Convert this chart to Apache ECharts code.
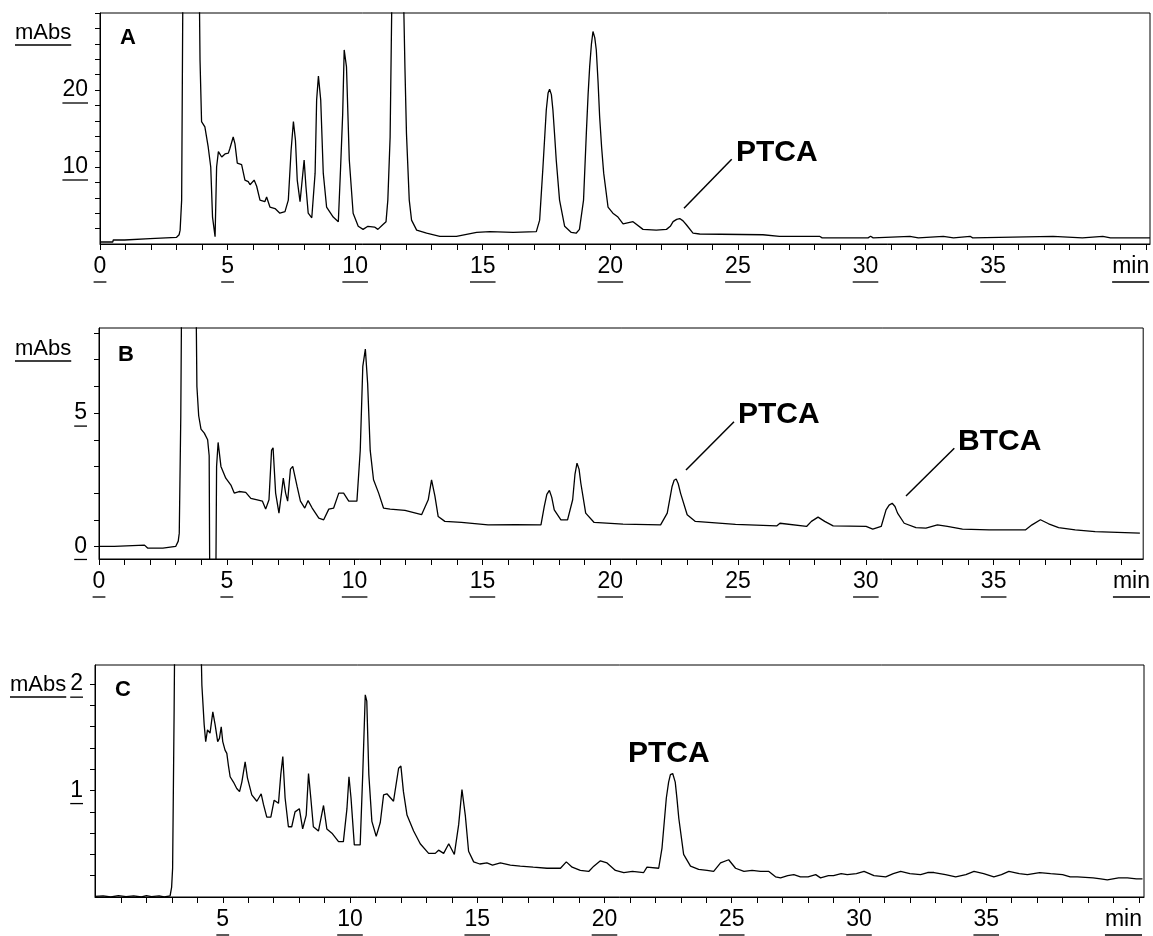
<!DOCTYPE html>
<html><head><meta charset="utf-8">
<script src="https://cdn.jsdelivr.net/npm/echarts@6/dist/echarts.min.js"></script>
<style>html,body{margin:0;padding:0;background:#fff}#c{width:1153px;height:936px}</style>
</head><body><div id="c"></div>
<script>
// ---- Panel A (retention time, min / absorbance, mAbs)
const tA=[0,0.5,0.52,0.96,0.98,1.96,1.98,3.0,3.1,3.14,3.2,3.26,3.5,3.87,3.92,3.98,4.11,4.24,4.34,4.41,4.51,4.57,4.64,4.77,4.9,5.03,5.09,5.22,5.29,5.38,5.55,5.68,5.81,5.88,6.04,6.14,6.27,6.46,6.53,6.66,6.86,7.05,7.25,7.38,7.49,7.58,7.66,7.73,7.84,7.9,8.0,8.07,8.16,8.3,8.43,8.49,8.56,8.65,8.75,8.88,9.14,9.34,9.43,9.51,9.57,9.66,9.77,9.92,10.12,10.31,10.5,10.76,10.89,11.08,11.21,11.28,11.37,11.45,11.65,11.88,11.95,12.01,12.12,12.21,12.41,12.8,13.32,13.97,14.76,15.28,16.19,17.1,17.23,17.36,17.43,17.49,17.56,17.62,17.69,17.75,17.82,17.88,18.01,18.21,18.47,18.66,18.79,18.95,19.06,19.13,19.19,19.26,19.32,19.39,19.45,19.52,19.58,19.66,19.74,19.91,20.1,20.3,20.5,20.89,21.28,21.8,22.2,22.35,22.46,22.6,22.72,22.85,22.98,23.24,23.5,25.98,26.63,28.2,28.3,30.1,30.2,30.3,31.74,32.07,33.05,33.45,34.1,34.2,37.35,38.5,39.3,39.6,40.8,41.15];
const vA=[0.26,0.26,0.52,0.52,0.69,0.69,0.82,0.87,1.2,1.8,5.7,40,80,40,23.9,15.9,15.2,12.6,10.0,3.5,0.95,10,12.0,11.3,11.7,11.8,12.4,13.9,13.0,10.5,10.3,8.3,8.1,7.7,8.3,7.5,5.7,5.5,6.1,4.8,4.6,4.0,4.2,5.7,12.2,15.9,13.5,8.3,5.5,7.5,10.9,7.5,4.0,3.4,9.2,18.7,21.8,18.7,9.2,4.8,3.5,2.9,10,16.8,25.2,23,10.9,4.0,2.3,1.9,2.3,2.2,1.9,2.5,2.9,5.7,13.9,35,60,35,23,14.4,5.7,3.1,1.8,1.4,1.0,1.0,1.5,1.6,1.5,1.6,3.1,10,14.0,17.4,19.6,20.1,19.4,17.4,14.0,10.9,5.7,2.3,1.5,1.4,1.9,5.7,14.4,19.5,23,26.0,27.6,26.8,25.2,21.0,16.6,12.5,9.2,4.8,4.0,3.5,2.6,2.9,1.9,1.8,1.9,2.3,2.9,3.2,3.3,3.0,2.5,1.4,1.3,1.2,1.0,1.0,0.8,0.8,1.0,0.8,1.0,0.8,1.0,0.8,1.0,0.8,1.0,0.8,1.0,0.8,0.8,0.8];

// ---- Panel B
const tB=[0,0.6,0.61,1.78,1.9,2.5,2.56,3.0,3.1,3.14,3.2,3.25,3.5,3.77,3.83,3.9,3.99,4.12,4.25,4.31,4.34,4.56,4.6,4.66,4.77,4.96,5.16,5.29,5.48,5.74,5.94,6.19,6.39,6.52,6.65,6.75,6.81,6.91,7.04,7.14,7.21,7.3,7.38,7.49,7.58,7.75,7.88,8.05,8.18,8.34,8.6,8.79,8.99,9.18,9.38,9.57,9.77,10.09,10.22,10.32,10.42,10.51,10.61,10.74,10.94,11.13,11.39,11.97,12.62,12.88,13.01,13.14,13.27,13.53,14.18,15.22,16.3,17.29,17.42,17.52,17.62,17.71,17.81,18.07,18.33,18.53,18.62,18.7,18.78,18.85,19.04,19.37,20.5,21.97,22.23,22.42,22.5,22.58,22.66,22.75,23.01,23.33,24.9,26.51,26.64,27.68,27.87,28.13,28.39,28.72,30.01,30.27,30.6,30.79,30.91,31.03,31.14,31.24,31.5,31.96,32.35,32.8,33.19,33.78,34.82,36.24,36.5,36.83,37.15,37.54,38.19,38.97,40.72];
const vB=[0,0,0.06,0.05,-0.06,-0.06,0,0,0.2,0.5,4.9,12,20,12,6.0,4.9,4.4,4.25,4.0,3.4,-3,-3,3.0,3.9,3.0,2.56,2.3,2.0,2.06,2.03,1.8,1.75,1.7,1.4,1.75,3.6,3.7,2.0,1.25,2.0,2.56,2.0,1.7,2.9,3.0,2.25,1.7,1.44,1.72,1.44,1.06,1.0,1.4,1.44,2.0,2.0,1.7,1.7,3.6,6.75,7.4,6.1,3.6,2.5,2.0,1.44,1.4,1.35,1.19,1.75,2.5,1.9,1.12,0.94,0.9,0.81,0.82,0.81,1.5,1.95,2.1,1.85,1.37,1.0,1.0,1.75,2.7,3.12,2.9,2.37,1.25,0.9,0.84,0.81,1.25,2.25,2.48,2.53,2.35,2.0,1.19,0.94,0.83,0.77,0.87,0.75,0.94,1.1,0.94,0.77,0.75,0.65,0.75,1.37,1.55,1.62,1.5,1.25,0.87,0.71,0.69,0.81,0.75,0.65,0.62,0.62,0.81,1.0,0.85,0.71,0.62,0.56,0.5];

// ---- Panel C
const tC=[-0.02,0.3,0.6,0.9,1.2,1.5,1.8,2.0,2.2,2.5,2.7,2.93,2.99,3.03,3.09,3.13,3.6,4.09,4.18,4.27,4.33,4.4,4.5,4.61,4.7,4.8,4.87,4.94,5.0,5.09,5.16,5.22,5.29,5.42,5.55,5.66,5.75,5.88,5.97,6.14,6.34,6.51,6.6,6.73,6.89,7.02,7.19,7.28,7.36,7.45,7.58,7.71,7.84,8.01,8.14,8.28,8.37,8.46,8.56,8.76,8.96,9.09,9.29,9.55,9.74,9.88,9.96,10.04,10.17,10.4,10.5,10.6,10.66,10.74,10.86,11.03,11.19,11.32,11.45,11.71,11.91,12.0,12.1,12.24,12.5,12.76,13.09,13.35,13.48,13.68,13.88,14.1,14.27,14.4,14.53,14.66,14.86,15.1,15.38,15.6,15.91,16.3,16.69,17.2,17.74,18.27,18.5,18.73,19.05,19.38,19.58,19.84,20.1,20.43,20.76,21.1,21.54,21.67,22.13,22.26,22.43,22.52,22.59,22.68,22.78,22.85,22.92,23.11,23.38,23.7,24.03,24.29,24.56,24.88,25.15,25.48,25.8,26.13,26.46,26.72,26.92,27.2,27.44,27.7,28.0,28.3,28.49,28.8,29.0,29.3,29.54,29.9,30.2,30.59,31.05,31.35,31.64,32.0,32.42,32.7,32.95,33.4,33.8,34.2,34.52,34.9,35.3,35.6,35.89,36.3,36.62,37.1,37.53,38.0,38.3,38.58,39.2,39.5,39.76,40.2,40.55,40.9,41.14];
const vC=[0.005,0.01,0.0,0.012,0.003,0.01,0.0,0.012,0.004,0.01,0.0,0.01,0.09,0.27,1.77,3,5,3,1.99,1.62,1.46,1.57,1.54,1.74,1.62,1.46,1.49,1.60,1.46,1.38,1.35,1.24,1.13,1.08,1.02,0.99,1.08,1.27,1.12,0.96,0.90,0.97,0.87,0.75,0.75,0.91,0.88,1.15,1.32,0.93,0.66,0.66,0.80,0.83,0.64,0.77,1.16,0.93,0.66,0.62,0.86,0.64,0.60,0.52,0.52,0.83,1.13,0.93,0.49,0.49,1.15,1.90,1.84,1.15,0.71,0.57,0.70,0.96,0.97,0.90,1.21,1.23,0.99,0.77,0.62,0.50,0.41,0.41,0.44,0.41,0.50,0.40,0.68,1.01,0.77,0.43,0.33,0.31,0.32,0.30,0.32,0.30,0.29,0.28,0.27,0.27,0.33,0.28,0.25,0.24,0.29,0.34,0.32,0.25,0.23,0.24,0.23,0.28,0.27,0.46,0.93,1.08,1.15,1.16,1.08,0.92,0.74,0.40,0.29,0.26,0.25,0.24,0.32,0.35,0.27,0.24,0.25,0.24,0.24,0.19,0.18,0.20,0.21,0.19,0.19,0.21,0.18,0.20,0.20,0.22,0.21,0.22,0.24,0.20,0.19,0.22,0.24,0.22,0.21,0.23,0.23,0.21,0.19,0.21,0.24,0.22,0.19,0.21,0.24,0.22,0.21,0.23,0.22,0.21,0.19,0.19,0.18,0.17,0.16,0.18,0.18,0.17,0.17];

// ---- ticks & labels
const xTicksAB=[0,1,2,3,4,5,6,7,8,9,10,11,12,13,14,15,16,17,18,19,20,21,22,23,24,25,26,27,28,29,30,31,32,33,34,35,36,37,38,39,40,41];
const xTicksC=[1,2,3,4,5,6,7,8,9,10,11,12,13,14,15,16,17,18,19,20,21,22,23,24,25,26,27,28,29,30,31,32,33,34,35,36,37,38,39,40,41];
const xLabelsAB=[0,5,10,15,20,25,30,35,40];
const xLabelsC=[5,10,15,20,25,30,35,40];
const yTicksA=[2,4,6,8,10,12,14,16,18,20,22,24,26,28,30];
const yLabelsA=[10,20];
const yTicksB=[0,1,2,3,4,5,6,7,8];
const yLabelsB=[0,5];
const yTicksC=[0.2,0.4,0.6,0.8,1.0,1.2,1.4,1.6,1.8,2.0];
const yLabelsC=[1,2];
const unitY='mAbs', unitX='min';
const panelNames=['A','B','C'];

const cv=document.createElement('canvas').getContext('2d');
function tw(s,f){cv.font=f;return cv.measureText(s).width;}
const FONT='"Liberation Sans", Arial, sans-serif';
const FS=23;
const LF=FS+'px '+FONT;

const grids=[
  {left:100,top:13,width:1050,height:231},
  {left:99,top:328,width:1049,height:231},
  {left:95,top:665,width:1049,height:232}
];
const xRange=[[0,41.15],[0,40.85],[-0.02,41.2]];
const yRange=[[0,30],[-0.47,8.19],[0,2.18]];
const xT=[xTicksAB,xTicksAB,xTicksC], xL=[xLabelsAB,xLabelsAB,xLabelsC];
const yT=[yTicksA,yTicksB,yTicksC], yL=[yLabelsA,yLabelsB,yLabelsC];
const ser=[[tA,vA],[tB,vB],[tC,vC]];

const chart=echarts.init(document.getElementById('c'),null,{renderer:'canvas'});
const xLabFmt=v=>v===40?'{m|'+unitX+'}':String(v);
const option={
  animation:false,
  grid:grids.map(g=>Object.assign({show:true,borderColor:'#000',borderWidth:1,backgroundColor:'transparent',containLabel:false},g)),
  xAxis:grids.map((g,i)=>({
    type:'value',gridIndex:i,min:xRange[i][0],max:xRange[i][1],
    axisLine:{show:true,onZero:false,lineStyle:{color:'#000',width:1}},
    axisTick:{show:true,length:6,customValues:xT[i],lineStyle:{color:'#000',width:1}},
    axisLabel:{show:true,customValues:xL[i],margin:11,color:'#000',fontFamily:FONT,fontSize:FS,formatter:xLabFmt,
      rich:{m:{fontFamily:FONT,fontSize:FS,color:'#000',padding:[0,0,0,20]}}},
    splitLine:{show:false}
  })),
  yAxis:grids.map((g,i)=>({
    type:'value',gridIndex:i,min:yRange[i][0],max:yRange[i][1],
    axisLine:{show:true,onZero:false,lineStyle:{color:'#000',width:1}},
    axisTick:{show:true,length:5,customValues:yT[i],lineStyle:{color:'#000',width:1}},
    axisLabel:{show:true,customValues:yL[i],margin:12,color:'#000',fontFamily:FONT,fontSize:FS,formatter:v=>String(v)},
    splitLine:{show:false}
  })),
  series:ser.map((s,i)=>({
    type:'line',xAxisIndex:i,yAxisIndex:i,showSymbol:false,clip:true,smooth:false,
    lineStyle:{color:'#000',width:1.3},
    data:s[0].map((t,k)=>[t,s[1][k]])
  }))
};
chart.setOption(option);

// ---- decorations: underlines, unit labels, panel letters, annotations
function ul(x1,x2,y){return {type:'line',silent:true,shape:{x1:x1,y1:y,x2:x2,y2:y},style:{stroke:'#000',lineWidth:1.3}};}
const g=[];
grids.forEach((gr,i)=>{
  const by=gr.top+gr.height;
  xL[i].forEach(v=>{
    const px=chart.convertToPixel({xAxisIndex:i},v);
    const s=v===40?unitX:String(v);
    const w=tw(s,LF);
    const cx=v===40?px+10:px;
    g.push(ul(cx-w/2,cx+w/2,by+38));
  });
  yL[i].forEach(v=>{
    const py=chart.convertToPixel({yAxisIndex:i},v);
    const s=String(v);
    const w=tw(s,LF);
    const r=gr.left-12;
    g.push(ul(r-w,r,py+13));
  });
});
const mAbsPos=[[15,33,45],[15,349,361],[10,685,697]];
mAbsPos.forEach(p=>{
  g.push({type:'text',x:p[0],y:p[1],style:{text:unitY,font:'22px '+FONT,fill:'#000',textVerticalAlign:'middle'}});
  g.push(ul(p[0],p[0]+tw(unitY,'22px '+FONT),p[2]));
});
const letterPos=[[120,38],[118,355],[115,690]];
letterPos.forEach((p,i)=>g.push({type:'text',x:p[0],y:p[1],style:{text:panelNames[i],font:'bold 22px '+FONT,fill:'#000',textVerticalAlign:'middle'}}));
const AF='bold 30px '+FONT;
g.push({type:'text',x:736,y:153,style:{text:'PTCA',font:AF,fill:'#000',textVerticalAlign:'middle'}});
g.push({type:'line',shape:{x1:731.7,y1:159.3,x2:684,y2:208.3},style:{stroke:'#000',lineWidth:1.5}});
g.push({type:'text',x:738,y:415,style:{text:'PTCA',font:AF,fill:'#000',textVerticalAlign:'middle'}});
g.push({type:'line',shape:{x1:734,y1:421.7,x2:686,y2:470},style:{stroke:'#000',lineWidth:1.5}});
g.push({type:'text',x:958,y:442,style:{text:'BTCA',font:AF,fill:'#000',textVerticalAlign:'middle'}});
g.push({type:'line',shape:{x1:954.3,y1:448.3,x2:906,y2:496},style:{stroke:'#000',lineWidth:1.5}});
g.push({type:'text',x:628,y:754,style:{text:'PTCA',font:AF,fill:'#000',textVerticalAlign:'middle'}});
chart.setOption({graphic:g});
</script></body></html>
